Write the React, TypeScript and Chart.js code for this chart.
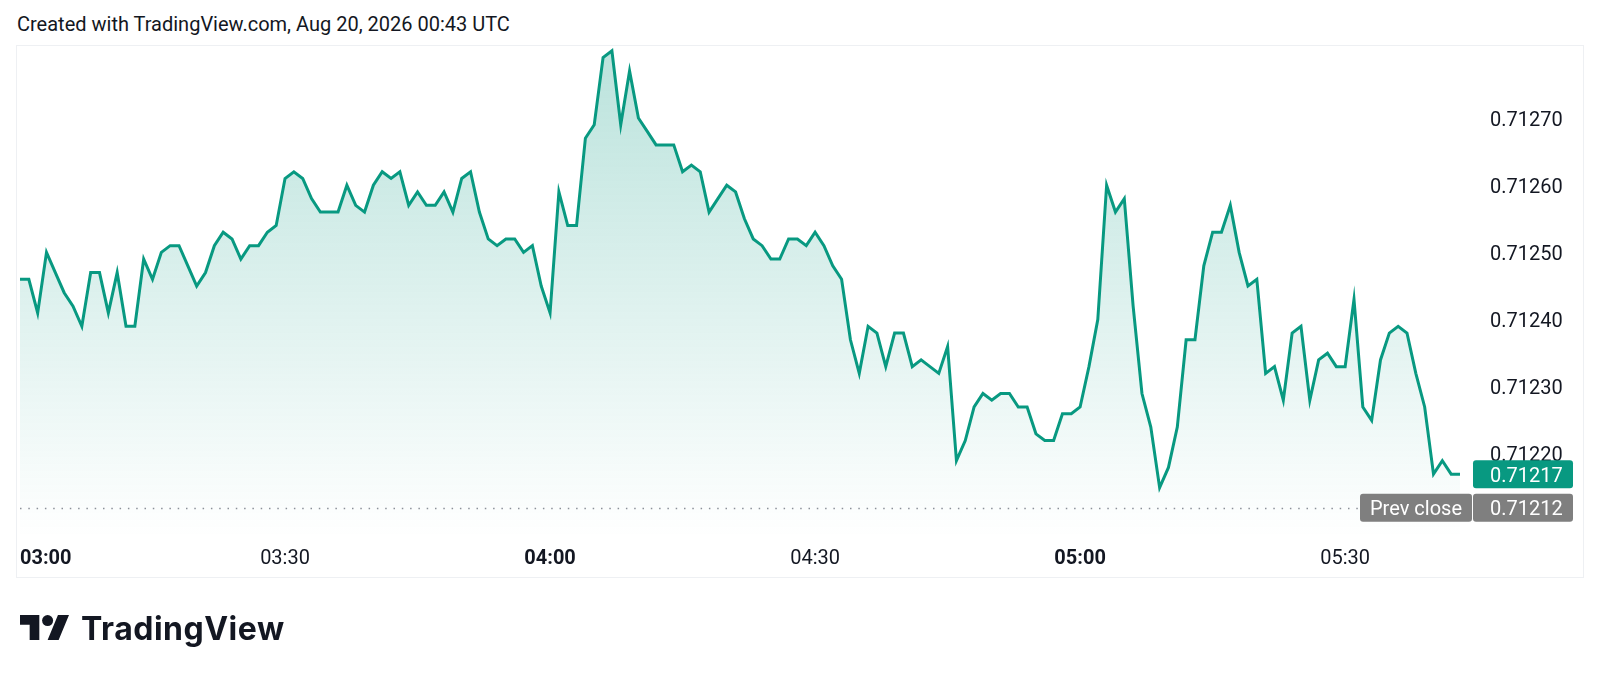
import React, { useEffect, useRef } from 'react';
import { Chart, registerables } from 'chart.js';

Chart.register(...registerables);

// ---- data ----
const startMinutes = 3 * 60; // 03:00, one point per minute
const priceValues = [
  0.71246, 0.71246, 0.71241, 0.7125, 0.71247, 0.71244, 0.71242, 0.71239, 0.71247, 0.71247,
  0.71241, 0.71247, 0.71239, 0.71239, 0.71249, 0.71246, 0.7125, 0.71251, 0.71251, 0.71248,
  0.71245, 0.71247, 0.71251, 0.71253, 0.71252, 0.71249, 0.71251, 0.71251, 0.71253, 0.71254,
  0.71261, 0.71262, 0.71261, 0.71258, 0.71256, 0.71256, 0.71256, 0.7126, 0.71257, 0.71256,
  0.7126, 0.71262, 0.71261, 0.71262, 0.71257, 0.71259, 0.71257, 0.71257, 0.71259, 0.71256,
  0.71261, 0.71262, 0.71256, 0.71252, 0.71251, 0.71252, 0.71252, 0.7125, 0.71251, 0.71245,
  0.71241, 0.71259, 0.71254, 0.71254, 0.71267, 0.71269, 0.71279, 0.7128, 0.71269, 0.71277,
  0.7127, 0.71268, 0.71266, 0.71266, 0.71266, 0.71262, 0.71263, 0.71262, 0.71256, 0.71258,
  0.7126, 0.71259, 0.71255, 0.71252, 0.71251, 0.71249, 0.71249, 0.71252, 0.71252, 0.71251,
  0.71253, 0.71251, 0.71248, 0.71246, 0.71237, 0.71232, 0.71239, 0.71238, 0.71233, 0.71238,
  0.71238, 0.71233, 0.71234, 0.71233, 0.71232, 0.71236, 0.71219, 0.71222, 0.71227, 0.71229,
  0.71228, 0.71229, 0.71229, 0.71227, 0.71227, 0.71223, 0.71222, 0.71222, 0.71226, 0.71226,
  0.71227, 0.71233, 0.7124, 0.7126, 0.71256, 0.71258, 0.71242, 0.71229, 0.71224, 0.71215,
  0.71218, 0.71224, 0.71237, 0.71237, 0.71248, 0.71253, 0.71253, 0.71257, 0.7125, 0.71245,
  0.71246, 0.71232, 0.71233, 0.71228, 0.71238, 0.71239, 0.71228, 0.71234, 0.71235, 0.71233,
  0.71233, 0.71243, 0.71227, 0.71225, 0.71234, 0.71238, 0.71239, 0.71238, 0.71232, 0.71227,
  0.71217, 0.71219, 0.71217, 0.71217,
];
const xTickLabels = ['03:00', '03:30', '04:00', '04:30', '05:00', '05:30'];
const yTickValues = [0.7122, 0.7123, 0.7124, 0.7125, 0.7126, 0.7127];
const prevClose = 0.71212;
const yMin = 0.712076488;
const yMax = 0.712807143;

const pad2 = (n: number) => String(n).padStart(2, '0');
const timeLabels = priceValues.map((_, i) => {
  const m = startMinutes + i;
  return `${pad2(Math.floor(m / 60))}:${pad2(m % 60)}`;
});

const GREEN = '#089981';
const TEXT = '#131722';
const FONT = 'Roboto';

function roundRect(ctx: CanvasRenderingContext2D, x: number, y: number, w: number, h: number, r: number) {
  ctx.beginPath();
  ctx.moveTo(x + r, y);
  ctx.lineTo(x + w - r, y);
  ctx.quadraticCurveTo(x + w, y, x + w, y + r);
  ctx.lineTo(x + w, y + h - r);
  ctx.quadraticCurveTo(x + w, y + h, x + w - r, y + h);
  ctx.lineTo(x + r, y + h);
  ctx.quadraticCurveTo(x, y + h, x, y + h - r);
  ctx.lineTo(x, y + r);
  ctx.quadraticCurveTo(x, y, x + r, y);
  ctx.closePath();
}

const overlayPlugin = {
  id: 'tvOverlay',
  beforeDatasetsDraw(chart: any) {
    const { ctx, chartArea, scales } = chart;
    const y = Math.round(scales.y.getPixelForValue(prevClose)) + 0.5;
    ctx.save();
    ctx.strokeStyle = '#8d9099';
    ctx.lineWidth = 1.5;
    ctx.setLineDash([1.5, 6.8]);
    ctx.beginPath();
    ctx.moveTo(chartArea.left, y);
    ctx.lineTo(1358, y);
    ctx.stroke();
    ctx.restore();
  },
  afterDraw(chart: any) {
    const { ctx, chartArea, scales } = chart;
    const last = priceValues[priceValues.length - 1];
    const yLast = scales.y.getPixelForValue(last);
    const yPrev = scales.y.getPixelForValue(prevClose);
    const boxL = chartArea.right + 13;
    const boxW = 100;
    const boxH = 28;
    const textX = chartArea.right + 30;
    ctx.save();
    ctx.font = `20px ${FONT}`;
    ctx.textBaseline = 'middle';
    ctx.textAlign = 'left';
    // last value
    ctx.fillStyle = GREEN;
    roundRect(ctx, boxL, yLast - boxH / 2, boxW, boxH, 3);
    ctx.fill();
    ctx.fillStyle = '#ffffff';
    ctx.fillText(last.toFixed(5), textX, yLast + 2.5);
    // prev close
    ctx.fillStyle = '#7f7f7f';
    roundRect(ctx, 1360, yPrev - boxH / 2, boxL - 1 - 1360, boxH, 3);
    ctx.fill();
    roundRect(ctx, boxL, yPrev - boxH / 2, boxW, boxH, 3);
    ctx.fill();
    ctx.fillStyle = '#ffffff';
    ctx.fillText('Prev close', 1370, yPrev + 2.5);
    ctx.fillText(prevClose.toFixed(5), textX, yPrev + 2.5);
    ctx.restore();
  },
};

export default function App() {
  const canvasRef = useRef<HTMLCanvasElement | null>(null);

  useEffect(() => {
    if (!canvasRef.current) return;
    Chart.defaults.font.family = FONT;
    const chart = new Chart(canvasRef.current, {
      type: 'line',
      data: {
        labels: timeLabels,
        datasets: [
          {
            data: priceValues,
            borderColor: GREEN,
            borderWidth: 3,
            pointRadius: 0,
            tension: 0,
            fill: 'start',
            backgroundColor: (c: any) => {
              const { chart: ch } = c;
              const area = ch.chartArea;
              if (!area) return 'rgba(8,153,129,0.15)';
              const g = ch.ctx.createLinearGradient(0, area.top, 0, area.bottom);
              g.addColorStop(0, 'rgba(8,153,129,0.28)');
              g.addColorStop(1, 'rgba(8,153,129,0)');
              return g;
            },
          },
        ],
      },
      options: {
        animation: false,
        responsive: false,
        devicePixelRatio: 1,
        layout: { padding: { left: 20, top: 46, right: 0, bottom: 0 } },
        plugins: { legend: { display: false }, tooltip: { enabled: false } },
        scales: {
          x: {
            type: 'category',
            grid: { display: false, drawTicks: false },
            border: { display: false },
            afterFit: (s: any) => {
              s.height = 141;
            },
            ticks: {
              autoSkip: false,
              maxRotation: 0,
              minRotation: 0,
              align: 'inner',
              padding: 10,
              color: TEXT,
              callback: (_v: any, i: number) => (xTickLabels.includes(timeLabels[i]) ? timeLabels[i] : ''),
              font: (c: any) => ({
                family: FONT,
                size: 20,
                weight: c.tick && typeof c.tick.label === 'string' && c.tick.label.endsWith(':00') ? 'bold' : 'normal',
              }),
            },
          },
          y: {
            type: 'linear',
            position: 'right',
            min: yMin,
            max: yMax,
            grid: { display: false, drawTicks: false },
            border: { display: false },
            afterFit: (s: any) => {
              s.width = 140;
            },
            afterBuildTicks: (s: any) => {
              s.ticks = yTickValues.map((value) => ({ value }));
            },
            ticks: {
              padding: 30,
              labelOffset: 2.5,
              color: TEXT,
              font: { family: FONT, size: 20 },
              callback: (v: any) => Number(v).toFixed(5),
            },
          },
        },
      },
      plugins: [overlayPlugin],
    } as any);
    return () => chart.destroy();
  }, []);

  return (
    <div style={{ position: 'absolute', left: 0, top: 0, width: 1600, height: 678, background: '#ffffff', overflow: 'hidden' }}>
      <div
        style={{
          position: 'absolute',
          left: 17,
          top: 11,
          fontFamily: FONT,
          fontSize: 20,
          color: TEXT,
          lineHeight: '26px',
          whiteSpace: 'nowrap',
        }}
      >
        Created with TradingView.com, Aug 20, 2026 00:43 UTC
      </div>
      <div
        style={{
          position: 'absolute',
          left: 16,
          top: 45,
          width: 1568,
          height: 533,
          border: '1px solid #eef0f3',
          boxSizing: 'border-box',
        }}
      />
      <canvas ref={canvasRef} width={1600} height={678} style={{ position: 'absolute', left: 0, top: 0, width: 1600, height: 678 }} />
      <svg
        style={{ position: 'absolute', left: 20, top: 615, width: 49, height: 25 }}
        viewBox="0 4 35.5 18"
        preserveAspectRatio="none"
      >
        <path d="M14 22H7V11H0V4h14v18zM28 22h-8l7.5-18h8L28 22z" fill="#131722" />
        <circle cx="20" cy="8" r="4" fill="#131722" />
      </svg>
      <div
        style={{
          position: 'absolute',
          left: 81,
          top: 609,
          fontFamily: 'Inter',
          fontWeight: 700,
          fontSize: 32,
          color: '#131722',
          lineHeight: '40px',
          letterSpacing: '0.5px',
          whiteSpace: 'nowrap',
        }}
      >
        TradingView
      </div>
    </div>
  );
}
